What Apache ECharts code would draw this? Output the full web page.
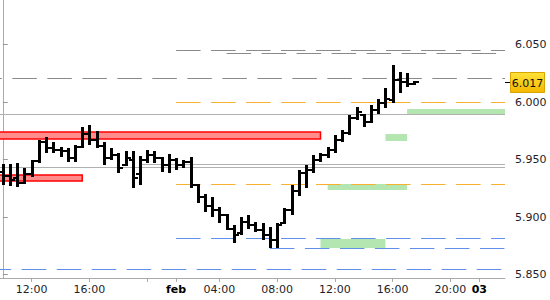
<!DOCTYPE html>
<html><head><meta charset="utf-8">
<script src="https://cdn.jsdelivr.net/npm/echarts@6/dist/echarts.min.js"></script>
<style>html,body{margin:0;padding:0;background:#fff;}#c{width:550px;height:300px;}</style>
</head><body><div id="c"></div>
<script>
// ---- axis ticks (x in 30-minute bar slots) ----
const tickSlots  = [4, 12, 20, 24, 30, 38, 46, 54, 62, 66];
const tickLabels = ['12:00', '16:00', '', 'feb', '04:00', '08:00', '12:00', '16:00', '20:00', '03'];
const priceTicks = [5.85, 5.90, 5.95, 6.00, 6.05];

// ---- OHLC bars ----
const barSlots = [0,1,2,3,4,5,6,7,8,9,10,11,12,13,14,15,16,17,18,19,20,21,22,23,24,25,26,27,28,29,
                  30,31,32,33,34,35,36,37,38,39,40,41,42,43,44,45,46,47,48,49,50,51,52,53,54,55,56,57];
const opens  = [5.939,5.936,5.934,5.930,5.937,5.949,5.965,5.960,5.958,5.957,5.951,5.961,5.972,5.967,5.962,5.951,5.954,5.945,5.950,5.937,
                5.950,5.954,5.951,5.945,5.950,5.945,5.948,5.928,5.917,5.910,5.906,5.902,5.890,5.886,5.896,5.893,5.889,5.884,5.880,5.895,
                5.906,5.923,5.938,5.941,5.950,5.954,5.958,5.967,5.973,5.986,5.989,5.983,5.993,5.999,6.002,6.019,6.017,6.016];
const highs  = [5.946,5.946,5.947,5.943,5.950,5.967,5.970,5.965,5.961,5.960,5.963,5.978,5.980,5.975,5.965,5.960,5.956,5.957,5.957,5.953,
                5.958,5.957,5.952,5.955,5.951,5.950,5.952,5.929,5.920,5.917,5.909,5.903,5.893,5.900,5.902,5.896,5.895,5.891,5.895,5.908,
                5.928,5.941,5.945,5.954,5.956,5.961,5.971,5.976,5.989,5.996,5.990,5.997,6.003,6.012,6.032,6.026,6.025,6.018];
const lows   = [5.928,5.927,5.926,5.929,5.935,5.947,5.956,5.956,5.952,5.948,5.948,5.960,5.963,5.960,5.945,5.950,5.938,5.944,5.925,5.928,
                5.947,5.947,5.939,5.938,5.941,5.943,5.925,5.912,5.904,5.900,5.895,5.889,5.877,5.884,5.890,5.887,5.880,5.873,5.873,5.894,
                5.902,5.918,5.925,5.938,5.948,5.951,5.956,5.965,5.971,5.984,5.978,5.982,5.990,5.995,5.999,6.008,6.013,6.015];
const closes = [5.936,5.932,5.930,5.937,5.949,5.965,5.960,5.958,5.957,5.951,5.961,5.972,5.967,5.962,5.951,5.954,5.943,5.951,5.934,5.950,
                5.954,5.951,5.945,5.950,5.945,5.948,5.928,5.917,5.910,5.906,5.902,5.890,5.884,5.896,5.893,5.889,5.884,5.880,5.893,5.906,
                5.923,5.938,5.941,5.950,5.954,5.958,5.967,5.973,5.986,5.991,5.983,5.993,5.999,6.003,6.019,6.017,6.016,6.017];

// ---- zones (slots / prices) ----
const zoneStart  = [-1, -1, 56, 53, 45, 44];
const zoneEnd    = [44, 11, 71, 56, 56, 53];
const zoneTop    = [5.9743, 5.9365, 5.9939, 5.9722, 5.9287, 5.8809];
const zoneBottom = [5.9676, 5.9316, 5.9896, 5.9663, 5.9239, 5.8733];
const zoneKind   = ['resistance', 'resistance', 'support', 'support', 'support', 'support'];

// ---- horizontal levels ----
const levelPrice = [6.0452, 6.0429, 6.0206, 6.0000, 5.9893, 5.9458, 5.9432, 5.9284, 5.8815, 5.8728, 5.8548];
const levelStart = [24, 31, -3.53, 24, -1, 19, -1, 24, 24, 37, -2.23];
const levelKind  = ['grey', 'grey', 'grey', 'target', 'solid', 'solid', 'solid', 'target', 'stop', 'stop', 'stop'];

const lastPrice = closes[closes.length - 1];
const lastSlot = barSlots[barSlots.length - 1];

const FONT = '"DejaVu Sans", Verdana, sans-serif';
const chart = echarts.init(document.getElementById('c'), null, {renderer: 'svg'});

const levelStyles = {
  grey:   {stroke: '#8a8a8a', lineWidth: 1, lineDash: [24.5, 10.5]},
  target: {stroke: '#f7b12e', lineWidth: 1, lineDash: [24.5, 10.5]},
  stop:   {stroke: '#5f8fe8', lineWidth: 1, lineDash: [24.5, 10.5]},
  solid:  {stroke: '#b0b0b0', lineWidth: 1}
};
const zoneStyles = {
  resistance: {fill: '#ff8c8c', stroke: '#ff0000', lineWidth: 1.5},
  support:    {fill: '#b4e6b1'}
};

chart.setOption({
  animation: false,
  backgroundColor: '#ffffff',
  grid: {left: 0, right: 45, top: 0, bottom: 22},
  xAxis: {
    type: 'value', min: -0.39, max: 69.56,
    axisLine: {show: true, lineStyle: {color: '#aaaaaa'}},
    axisTick: {show: true, length: 4, customValues: tickSlots, lineStyle: {color: '#aaaaaa'}},
    axisLabel: {
      customValues: tickSlots, margin: 6, color: '#1e1e2a', fontFamily: FONT, fontSize: 11,
      formatter: function (v) {
        const i = tickSlots.indexOf(Math.round(v));
        const t = i >= 0 ? tickLabels[i] : '';
        if (t === 'feb' || t === '03') return '{b|' + t + '}';
        return t;
      },
      rich: {b: {fontWeight: 'bold', fontSize: 11, fontFamily: FONT, color: '#000'}}
    },
    splitLine: {show: false}
  },
  yAxis: {
    type: 'value', position: 'right', min: 5.846957, max: 6.088696,
    axisLine: {show: true, lineStyle: {color: '#aaaaaa'}},
    axisTick: {show: true, length: 5, customValues: priceTicks, lineStyle: {color: '#999999'}},
    axisLabel: {
      customValues: priceTicks, margin: 10, color: '#1e1e2a', fontFamily: FONT, fontSize: 11,
      formatter: v => v.toFixed(3)
    },
    splitLine: {show: false}
  },
  series: [
    {
      type: 'custom', name: 'zones', z: 1, clip: true,
      data: zoneStart.map((s, i) => [s, zoneEnd[i], zoneTop[i], zoneBottom[i]]),
      encode: {x: [0, 1], y: [2, 3]},
      renderItem: function (params, api) {
        const cs = params.coordSys;
        const p1 = api.coord([api.value(0), api.value(2)]);
        const p2 = api.coord([api.value(1), api.value(3)]);
        const x1 = Math.max(p1[0], cs.x - 3);
        const x2 = Math.min(p2[0], cs.x + cs.width);
        const st = zoneStyles[zoneKind[params.dataIndex]];
        return {type: 'rect', shape: {x: x1, y: Math.round(p1[1]), width: x2 - x1, height: Math.round(p2[1]) - Math.round(p1[1])},
                style: Object.assign({}, st)};
      }
    },
    {
      type: 'custom', name: 'levels', z: 2, clip: true,
      data: levelPrice.map((v, i) => [levelStart[i], v]),
      encode: {x: 0, y: 1},
      renderItem: function (params, api) {
        const cs = params.coordSys;
        const p = api.coord([api.value(0), api.value(1)]);
        const y = Math.round(p[1]) + 0.5;
        const st = levelStyles[levelKind[params.dataIndex]];
        return {type: 'line', shape: {x1: p[0], y1: y, x2: cs.x + cs.width, y2: y},
                style: Object.assign({fill: null}, st)};
      }
    },
    {
      type: 'custom', name: 'ohlc', z: 3, clip: true,
      data: barSlots.map((s, i) => [s, opens[i], highs[i], lows[i], closes[i]]),
      encode: {x: 0, y: [1, 2, 3, 4]},
      renderItem: function (params, api) {
        const s = api.value(0);
        const pO = api.coord([s, api.value(1)]);
        const yH = Math.round(api.coord([s, api.value(2)])[1]);
        const yL = Math.round(api.coord([s, api.value(3)])[1]);
        const yC = Math.round(api.coord([s, api.value(4)])[1]);
        const yO = Math.round(pO[1]);
        const cx = Math.round(pO[0]);
        return {type: 'group', children: [
          {type: 'rect', shape: {x: cx - 1, y: yH, width: 3, height: Math.max(yL - yH, 2)}, style: {fill: '#000'}},
          {type: 'rect', shape: {x: cx - 4, y: yO - 1, width: 3, height: 2}, style: {fill: '#000'}},
          {type: 'rect', shape: {x: cx + 2, y: yC - 1, width: 3, height: 2}, style: {fill: '#000'}}
        ]};
      }
    },
    {
      type: 'custom', name: 'last', z: 4, clip: false,
      data: [[lastSlot, lastPrice]],
      encode: {x: 0, y: 1},
      renderItem: function (params, api) {
        const cs = params.coordSys;
        const p = api.coord([api.value(0), api.value(1)]);
        const y = Math.round(p[1]);
        const ax = cs.x + cs.width;
        return {type: 'group', children: [
          {type: 'line', shape: {x1: ax, y1: y + 0.5, x2: ax + 5, y2: y + 0.5}, style: {stroke: '#000', lineWidth: 1}},
          {type: 'rect', shape: {x: ax + 5.5, y: y - 9.5, width: 34, height: 20},
           style: {fill: new echarts.graphic.LinearGradient(0, 0, 0, 1, [{offset: 0, color: '#ffe23a'}, {offset: 1, color: '#f3b800'}]),
                   stroke: '#d9a400', lineWidth: 1}},
          {type: 'text', style: {text: lastPrice.toFixed(3), x: ax + 22.5, y: y + 1, align: 'center', verticalAlign: 'middle',
                                 font: '11px ' + FONT, fill: '#111'}}
        ]};
      }
    }
  ]
});
</script>
</body></html>
